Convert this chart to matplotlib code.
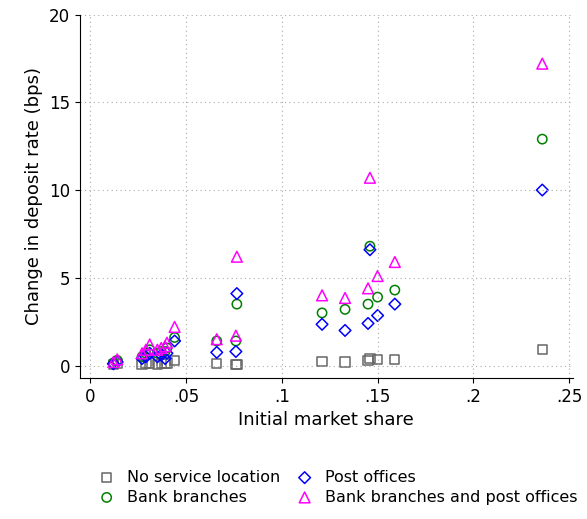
import matplotlib
matplotlib.use("Agg")
import matplotlib.pyplot as plt

share = [0.012, 0.014, 0.027, 0.029, 0.031, 0.035, 0.037, 0.039, 0.040, 0.044,
         0.066, 0.076, 0.0765, 0.121, 0.133, 0.145, 0.146, 0.150, 0.159, 0.236]
no_service = [0.05, 0.1, 0.05, 0.1, 0.15, 0.05, 0.1, 0.1, 0.15, 0.3,
              0.1, 0.05, 0.05, 0.25, 0.2, 0.3, 0.4, 0.35, 0.35, 0.9]
post = [0.1, 0.2, 0.4, 0.5, 0.7, 0.5, 0.6, 0.4, 0.7, 1.4,
        0.75, 0.8, 4.1, 2.35, 2.0, 2.4, 6.6, 2.85, 3.5, 10.0]
bank = [0.15, 0.3, 0.5, 0.7, 0.9, 0.7, 0.8, 0.8, 1.0, 1.6,
        1.4, 1.4, 3.5, 3.0, 3.2, 3.5, 6.8, 3.9, 4.3, 12.9]
both = [0.2, 0.35, 0.7, 0.9, 1.2, 0.9, 1.0, 1.1, 1.3, 2.2,
        1.5, 1.7, 6.2, 4.0, 3.85, 4.4, 10.7, 5.1, 5.9, 17.2]

fig = plt.figure(figsize=(5.87, 5.19), dpi=100)
ax = fig.add_axes([0.136, 0.272, 0.84, 0.70])
kw = dict(facecolor='none', s=45, linewidths=1.1)
ax.scatter(share, no_service, marker='s', edgecolors='#666666', label='No service location', **kw)
ax.scatter(share, bank, marker='o', edgecolors='#008000', label='Bank branches', **kw)
ax.scatter(share, post, marker='D', edgecolors='#0000ff', label='Post offices', s=35, facecolor='none', linewidths=1.1)
ax.scatter(share, both, marker='^', edgecolors='#ff00ff', label='Bank branches and post offices', s=60, facecolor='none', linewidths=1.1)

ax.set_xlim(-0.0055, 0.252)
ax.set_ylim(-0.7, 20)
ax.set_xticks([0, 0.05, 0.1, 0.15, 0.2, 0.25])
ax.set_xticklabels(['0', '.05', '.1', '.15', '.2', '.25'])
ax.set_yticks([0, 5, 10, 15, 20])
ax.tick_params(labelsize=12)
ax.grid(True, linestyle=(0, (1, 3)), color='#aaaaaa', linewidth=0.8)
for s in ['top', 'right']:
    ax.spines[s].set_visible(False)
ax.set_xlabel('Initial market share', fontsize=13)
ax.set_ylabel('Change in deposit rate (bps)', fontsize=13)
fig.legend(loc='lower left', bbox_to_anchor=(0.13, 0.0),
           ncol=2, frameon=False, fontsize=11.5, handletextpad=0.3, columnspacing=0.5, labelspacing=0.3)
fig.savefig('out.png', dpi=100)
